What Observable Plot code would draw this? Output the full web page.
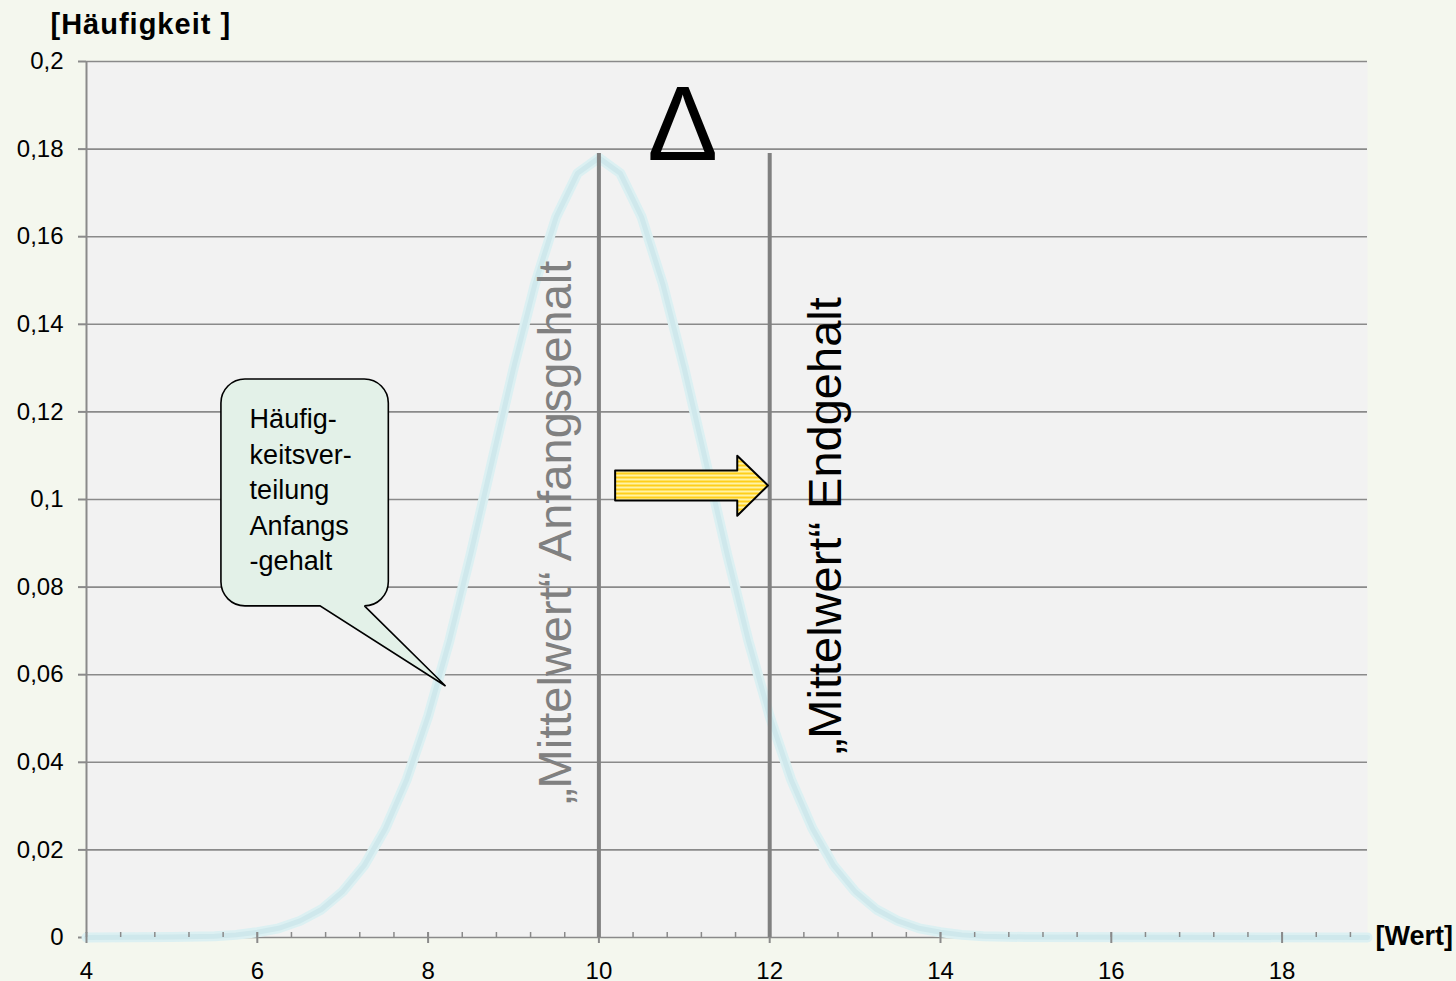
<!DOCTYPE html>
<html><head><meta charset="utf-8">
<script src="https://cdn.jsdelivr.net/npm/d3@7"></script>
<script src="https://cdn.jsdelivr.net/npm/@observablehq/plot@0.6"></script>
<style>
html,body{margin:0;padding:0;background:#f4f7ee;}
#chart{width:1456px;height:981px;}
</style></head><body><div id="chart"></div>
<script>
// ---- data ----
const werte = [4, 5, 5.5, 5.75, 6, 6.25, 6.5, 6.75, 7, 7.25, 7.5, 7.75, 8, 8.25, 8.5, 8.75, 9, 9.25, 9.5, 9.75, 10,
  10.25, 10.5, 10.75, 11, 11.25, 11.5, 11.75, 12, 12.25, 12.5, 12.75, 13, 13.25, 13.5, 13.75, 14, 14.25, 14.5, 15, 19];
const haeufigkeit = [0, 0.0001, 0.0003, 0.0006, 0.0012, 0.0021, 0.0038, 0.0064, 0.0105, 0.0164, 0.0249, 0.0361, 0.0505, 0.0678, 0.0876, 0.1088, 0.1299, 0.1491, 0.1645, 0.1745, 0.178,
  0.1745, 0.1645, 0.1491, 0.1299, 0.1088, 0.0876, 0.0678, 0.0505, 0.0361, 0.0249, 0.0164, 0.0105, 0.0064, 0.0038, 0.0021, 0.0012, 0.0006, 0.0003, 0.0001, 0];
const mittelwerte = [10, 12];
const mittelwertLabels = ["\u201EMittelwert\u201C Anfangsgehalt", "\u201EMittelwert\u201C Endgehalt"];
const yTicks = [0, 0.02, 0.04, 0.06, 0.08, 0.1, 0.12, 0.14, 0.16, 0.18, 0.2];
const yTickLabels = ["0", "0,02", "0,04", "0,06", "0,08", "0,1", "0,12", "0,14", "0,16", "0,18", "0,2"];
const xTicks = [4, 6, 8, 10, 12, 14, 16, 18];
const xMinorTicks = d3.range(0, 38).map(i => 4 + i * 0.4);
const calloutLines = ["Häufig-", "keitsver-", "teilung", "Anfangs", "-gehalt"];
const yTitle = "[Häufigkeit ]";
const xTitle = "[Wert]";

// ---- annotation geometry (data units) ----
const linienOben = 0.179;
const delta = {x: 10.98, y: 0.1776};
const labelPos = [{x: 9.50, y: 0.0925}, {x: 12.66, y: 0.094}];
const arrow = [
  [10.19, 0.1066], [11.62, 0.1066], [11.62, 0.110], [11.98, 0.1032],
  [11.62, 0.0963], [11.62, 0.0998], [10.19, 0.0998], [10.19, 0.1066]
];
const callout = {x1: 5.58, x2: 7.54, y1: 0.1274, y2: 0.0756, t1: 6.74, t2: 7.26, tipX: 8.21, tipY: 0.0573};

const font = "'Liberation Sans', Arial, sans-serif";
const grid = "#8a8a8a";
const data = werte.map((w, i) => ({wert: w, h: haeufigkeit[i]}));

const defsMark = () => {
  const defs = d3.create("svg:defs");
  const p = defs.append("pattern").attr("id", "gelb").attr("patternUnits", "userSpaceOnUse")
    .attr("width", 8).attr("height", 4);
  p.append("rect").attr("width", 8).attr("height", 4).attr("fill", "#fff2a6");
  p.append("rect").attr("width", 8).attr("height", 2).attr("fill", "#ffcf1a");
  return defs.node();
};

const calloutMark = (index, {x, y}) => {
  const L = x(callout.x1), R = x(callout.x2), T = y(callout.y1), B = y(callout.y2), r = 24;
  const t1 = x(callout.t1), t2 = x(callout.t2), tx = x(callout.tipX), ty = y(callout.tipY);
  const d = `M${L + r},${T} H${R - r} A${r},${r} 0 0 1 ${R},${T + r} V${B - r} A${r},${r} 0 0 1 ${R - r},${B}` +
    ` H${t2} L${tx},${ty} L${t1},${B} H${L + r} A${r},${r} 0 0 1 ${L},${B - r} V${T + r} A${r},${r} 0 0 1 ${L + r},${T} Z`;
  const g = d3.create("svg:g");
  g.append("path").attr("d", d).attr("fill", "#e3f1e8").attr("stroke", "#000").attr("stroke-width", 1.6);
  return g.node();
};

const plot = Plot.plot({
  width: 1456, height: 981,
  marginLeft: 86, marginRight: 89, marginTop: 61, marginBottom: 44,
  style: {background: "transparent", fontFamily: font, fontSize: "24px", color: "#000", overflow: "visible"},
  x: {domain: [4, 19]},
  y: {domain: [0, 0.2]},
  marks: [
    defsMark,
    Plot.frame({fill: "#f2f2f2", stroke: null}),
    Plot.ruleY(yTicks, {stroke: grid, strokeWidth: 1.6}),
    Plot.ruleX([4], {stroke: grid, strokeWidth: 2}),
    Plot.axisY(yTicks, {tickSize: 8, tickPadding: 15, tickFormat: d => yTickLabels[yTicks.indexOf(d)], stroke: grid, strokeWidth: 2, fill: "#000", fontSize: 24, label: null}),
    Plot.line(data, {x: "wert", y: "h", stroke: "#dcf0f2", strokeWidth: 10}),
    Plot.line(data, {x: "wert", y: "h", stroke: "#cfe8ec", strokeWidth: 5}),
    Plot.axisX(xMinorTicks, {tickSize: 5, dy: -5, tickFormat: () => "", stroke: grid, strokeWidth: 1.5, label: null}),
    Plot.axisX(xTicks, {tickSize: 11, dy: -5, tickFormat: () => "", stroke: grid, strokeWidth: 2, label: null}),
    Plot.axisX(xTicks, {tickSize: 0, tickPadding: 24, fill: "#000", fontSize: 24, label: null}),
    Plot.ruleX(mittelwerte, {y1: 0, y2: linienOben, stroke: "#808080", strokeWidth: 4}),
    Plot.text([mittelwertLabels[0]], {x: labelPos[0].x, y: labelPos[0].y, rotate: -90, fontSize: 47, fill: "#808080", textAnchor: "middle"}),
    Plot.text([mittelwertLabels[1]], {x: labelPos[1].x, y: labelPos[1].y, rotate: -90, fontSize: 47, fill: "#000", textAnchor: "middle"}),
    Plot.text(["\u0394"], {x: delta.x, y: delta.y, fontSize: 106, fill: "#000", textAnchor: "middle", lineAnchor: "bottom"}),
    Plot.line(arrow, {x: d => d[0], y: d => d[1], fill: "url(#gelb)", stroke: "#000", strokeWidth: 2, curve: "linear-closed"}),
    calloutMark,
    Plot.text([calloutLines.join("\n")], {x: 5.91, y: 0.1027, fontSize: 27, lineHeight: 1.315, textAnchor: "start", fill: "#000"}),
    Plot.text([yTitle], {frameAnchor: "top-left", dx: -36, dy: -28, lineAnchor: "bottom", textAnchor: "start", fontSize: 29, fontWeight: "bold", fill: "#000", className: "ytitle"}),
    Plot.text([xTitle], {frameAnchor: "bottom-right", dx: 8, dy: 7, lineAnchor: "bottom", textAnchor: "start", fontSize: 27, fontWeight: "bold", fill: "#000"})
  ]
});
d3.select(plot).selectAll(".ytitle text").style("letter-spacing", "1px");
document.getElementById("chart").appendChild(plot);
</script>
</body></html>
